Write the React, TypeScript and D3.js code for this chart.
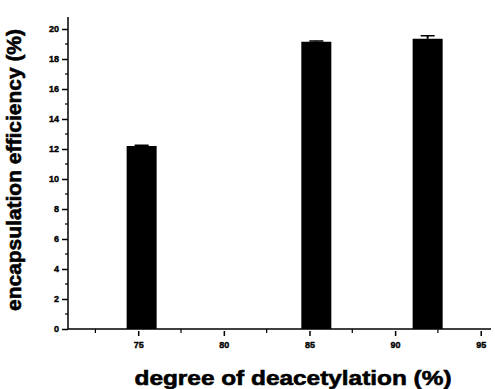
import React, { useEffect, useRef } from 'react';
import * as d3 from 'd3';

// degree of deacetylation (%) for each sample and its encapsulation efficiency (%)
const degrees = [75.2, 85.4, 91.9];
const efficiency = [12.2, 19.15, 19.35];
const errors = [0.05, 0.05, 0.2];
const xTicks = [75, 80, 85, 90, 95];
const yTicks = [0, 2, 4, 6, 8, 10, 12, 14, 16, 18, 20];

const App: React.FC = () => {
    const svgRef = useRef<SVGSVGElement | null>(null);

    useEffect(() => {
        if (!svgRef.current) return;
        const svg = d3.select(svgRef.current);
        svg.selectAll('*').remove();

        const x = d3.scaleLinear().domain([70.9, 95.6]).range([68, 491]);
        const y = d3.scaleLinear().domain([0, 20]).range([329, 29]);
        const barW = 30;
        const font = '"Liberation Sans", Arial, sans-serif';

        // bars
        svg.selectAll('rect.bar')
            .data(degrees)
            .enter()
            .append('rect')
            .attr('class', 'bar')
            .attr('x', (d) => x(d) - barW / 2)
            .attr('width', barW)
            .attr('y', (d, i) => y(efficiency[i]))
            .attr('height', (d, i) => y(0) - y(efficiency[i]))
            .style('fill', '#000');

        // error caps
        svg.selectAll('line.err')
            .data(degrees)
            .enter()
            .append('line')
            .attr('x1', (d) => x(d))
            .attr('x2', (d) => x(d))
            .attr('y1', (d, i) => y(efficiency[i]))
            .attr('y2', (d, i) => y(efficiency[i] + errors[i]))
            .style('stroke', '#000')
            .style('stroke-width', 2);
        svg.selectAll('line.cap')
            .data(degrees)
            .enter()
            .append('line')
            .attr('x1', (d) => x(d) - 7)
            .attr('x2', (d) => x(d) + 7)
            .attr('y1', (d, i) => y(efficiency[i] + errors[i]))
            .attr('y2', (d, i) => y(efficiency[i] + errors[i]))
            .style('stroke', '#000')
            .style('stroke-width', 1.5);

        // y axis
        const yAxis = d3.axisLeft(y).tickValues(yTicks).tickSize(6).tickSizeOuter(0).tickPadding(3);
        const gy = svg.append('g').attr('transform', 'translate(68,0)').call(yAxis);
        gy.select('.domain').attr('d', `M0,${y(0)}V17`).style('stroke-width', 1.5);
        gy.selectAll('.tick line').style('stroke-width', 1.5);
        gy.selectAll('.tick text')
            .style('font-family', font)
            .style('font-weight', 'bold')
            .style('font-size', '9px')
            .style('stroke', '#000')
            .style('stroke-width', 0.4);
        const yMinor = d3.range(1, 20, 2);
        svg.selectAll('line.yminor')
            .data(yMinor)
            .enter()
            .append('line')
            .attr('x1', 68)
            .attr('x2', 65)
            .attr('y1', (d) => y(d))
            .attr('y2', (d) => y(d))
            .style('stroke', '#000')
            .style('stroke-width', 1.2);

        // x axis
        const xAxis = d3.axisBottom(x).tickValues(xTicks).tickSize(6).tickSizeOuter(0).tickPadding(7);
        const gx = svg.append('g').attr('transform', 'translate(0,329)').call(xAxis);
        gx.select('.domain').attr('d', 'M68,0H491').style('stroke-width', 1.5);
        gx.selectAll('.tick line').attr('y1', 2).attr('y2', 7).style('stroke-width', 1.5);
        gx.selectAll('.tick text')
            .style('font-family', font)
            .style('font-weight', 'bold')
            .style('font-size', '9px')
            .style('stroke', '#000')
            .style('stroke-width', 0.4);
        const xMinor = [72.5, 77.5, 82.5, 87.5, 92.5];
        svg.selectAll('line.xminor')
            .data(xMinor)
            .enter()
            .append('line')
            .attr('x1', (d) => x(d))
            .attr('x2', (d) => x(d))
            .attr('y1', 329)
            .attr('y2', 333)
            .style('stroke', '#000')
            .style('stroke-width', 1.2);

        // axis titles
        svg.append('text')
            .attr('x', 293)
            .attr('y', 385)
            .attr('text-anchor', 'middle')
            .attr('textLength', 317)
            .attr('lengthAdjust', 'spacingAndGlyphs')
            .style('font-family', font)
            .style('font-weight', 'bold')
            .style('font-size', '21px')
            .style('stroke', '#000')
            .style('stroke-width', 0.6)
            .text('degree of deacetylation (%)');

        svg.append('text')
            .attr('transform', 'translate(21,170) rotate(-90)')
            .attr('text-anchor', 'middle')
            .attr('textLength', 282)
            .attr('lengthAdjust', 'spacingAndGlyphs')
            .style('font-family', font)
            .style('font-weight', 'bold')
            .style('font-size', '20px')
            .style('stroke', '#000')
            .style('stroke-width', 0.6)
            .text('encapsulation efficiency (%)');
    }, []);

    return (
        <svg
            ref={svgRef}
            width={495}
            height={389}
            style={{ position: 'absolute', left: 0, top: 0, background: '#fff' }}
        />
    );
};

export default App;
